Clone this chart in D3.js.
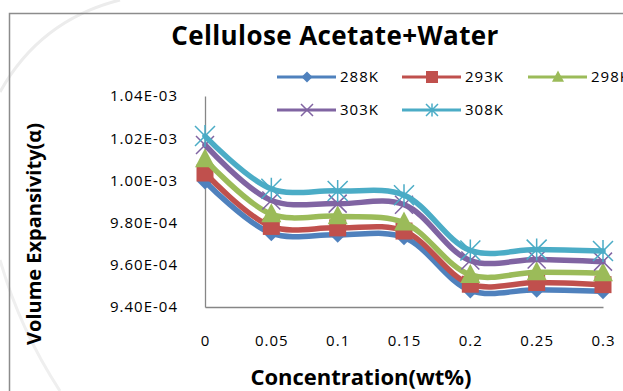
<!DOCTYPE html>
<html>
<head>
<meta charset="utf-8">
<script src="https://cdn.jsdelivr.net/npm/d3@7"></script>
<style>
  body { margin: 0; background: #fff; }
  svg { display: block; }
  text { font-family: 'Open Sans', sans-serif; fill: #000; }
</style>
</head>
<body>
<div id="chart"></div>
<script>
/* global d3 */

// ----------------------------------------
// Data (x 1e-3)
// ----------------------------------------
let concentrations = [0, 0.05, 0.1, 0.15, 0.2, 0.25, 0.3]
let seriesNames = ['288K', '293K', '298K', '303K', '308K']
let v288 = [0.9995, 0.9750, 0.9742, 0.9730, 0.9478, 0.9482, 0.9475]
let v293 = [1.0035, 0.9782, 0.9775, 0.9760, 0.9508, 0.9516, 0.9506]
let v298 = [1.0100, 0.9840, 0.9830, 0.9800, 0.9552, 0.9565, 0.9560]
let v303 = [1.0168, 0.9905, 0.9890, 0.9885, 0.9620, 0.9625, 0.9615]
let v308 = [1.0210, 0.9960, 0.9950, 0.9930, 0.9668, 0.9672, 0.9665]
let yTickValues = [9.4e-4, 9.6e-4, 9.8e-4, 1.0e-3, 1.02e-3, 1.04e-3]

let colors = ['#4F81BD', '#C0504D', '#9BBB59', '#8064A2', '#4BACC6']
let markerTypes = ['diamond', 'square', 'triangle', 'cross', 'star']

var width = 623
var height = 391

var series = [v288, v293, v298, v303, v308].map((vals, i) => ({
  name: seriesNames[i],
  color: colors[i],
  marker: markerTypes[i],
  points: vals.map((v, j) => ({ x: concentrations[j], y: v * 1e-3 }))
}))

var svg = d3.select('#chart').append('svg')
  .attr('width', width)
  .attr('height', height)

// faint watermark arcs on the left, as in the scan
svg.append('path')
  .attr('d', 'M0,92 Q40,20 120,0')
  .attr('fill', 'none')
  .attr('stroke', '#ececec')
  .attr('stroke-width', 3)
svg.append('path')
  .attr('d', 'M0,260 Q20,330 60,391')
  .attr('fill', 'none')
  .attr('stroke', '#efefef')
  .attr('stroke-width', 3)

// chart frame (cut off on right and bottom)
svg.append('path')
  .attr('d', 'M9.5,' + height + ' V13.5 H' + width)
  .attr('fill', 'none')
  .attr('stroke', '#8c8c8c')
  .attr('stroke-width', 1.5)

// ----------------------------------------
// Scales and axes
// ----------------------------------------
var x = d3.scaleLinear().domain([0, 0.3]).range([205, 603])
var y = d3.scaleLinear().domain([9.4e-4, 1.04e-3]).range([307, 96])

function sciFormat (v) {
  let parts = v.toExponential(2).toUpperCase().split('E')
  let exp = +parts[1]
  let sign = exp < 0 ? '-' : '+'
  return parts[0] + 'E' + sign + String(Math.abs(exp)).padStart(2, '0')
}

var yAxis = svg.append('g')
  .attr('transform', 'translate(205,0)')
  .call(d3.axisLeft(y).tickValues(yTickValues).tickFormat(sciFormat).tickSize(0).tickPadding(27))
yAxis.select('.domain').attr('stroke', '#868686').attr('stroke-width', 1.3)
yAxis.selectAll('text')
  .style('font-family', "'Open Sans', sans-serif")
  .style('font-size', '15px')
  .style('letter-spacing', '1px')
  .attr('fill', '#000')

var xAxis = svg.append('g')
  .attr('transform', 'translate(0,307)')
  .call(d3.axisBottom(x).tickValues(concentrations).tickFormat(d3.format('')).tickSize(0).tickPadding(28))
xAxis.select('.domain').attr('stroke', '#868686').attr('stroke-width', 1.3)
xAxis.selectAll('text')
  .style('font-family', "'Open Sans', sans-serif")
  .style('font-size', '15px')
  .style('letter-spacing', '1px')
  .attr('fill', '#000')

// ----------------------------------------
// Titles
// ----------------------------------------
svg.append('text')
  .attr('x', 335)
  .attr('y', 45)
  .attr('text-anchor', 'middle')
  .style('font-size', '26px')
  .style('font-weight', 'bold')
  .style('letter-spacing', '0.4px')
  .text('Cellulose Acetate+Water')

svg.append('text')
  .attr('transform', 'translate(41,234) rotate(-90)')
  .attr('text-anchor', 'middle')
  .style('font-size', '20px')
  .style('font-weight', 'bold')
  .text('Volume Expansivity(α)')

svg.append('text')
  .attr('x', 361)
  .attr('y', 385)
  .attr('text-anchor', 'middle')
  .style('font-size', '22px')
  .style('font-weight', 'bold')
  .text('Concentration(wt%)')

// ----------------------------------------
// Markers
// ----------------------------------------
function drawMarker (g, type, color, s) {
  if (type === 'diamond') {
    g.append('path')
      .attr('d', 'M0,' + (-s / 2) + 'L' + (s / 2) + ',0L0,' + (s / 2) + 'L' + (-s / 2) + ',0Z')
      .attr('fill', color)
  } else if (type === 'square') {
    g.append('rect')
      .attr('x', -s / 2).attr('y', -s / 2)
      .attr('width', s).attr('height', s)
      .attr('fill', color)
  } else if (type === 'triangle') {
    g.append('path')
      .attr('d', 'M0,' + (-s * 0.55) + 'L' + (s / 2) + ',' + (s * 0.4) + 'L' + (-s / 2) + ',' + (s * 0.4) + 'Z')
      .attr('fill', color)
  } else if (type === 'cross') {
    let h = s / 2
    g.append('path')
      .attr('d', 'M' + (-h) + ',' + (-h) + 'L' + h + ',' + h + 'M' + (-h) + ',' + h + 'L' + h + ',' + (-h))
      .attr('stroke', color).attr('stroke-width', 1.5).attr('fill', 'none')
  } else if (type === 'star') {
    let h = s / 2
    g.append('path')
      .attr('d', 'M' + (-h) + ',' + (-h) + 'L' + h + ',' + h + 'M' + (-h) + ',' + h + 'L' + h + ',' + (-h) + 'M0,' + (-h * 1.1) + 'V' + (h * 1.1))
      .attr('stroke', color).attr('stroke-width', 1.5).attr('fill', 'none')
  }
}

var markerSize = { diamond: 16, square: 17, triangle: 20, cross: 18, star: 20 }
var legendMarkerSize = { diamond: 11, square: 12, triangle: 12, cross: 12, star: 12 }

// ----------------------------------------
// Lines
// ----------------------------------------
var line = d3.line()
  .x(d => x(d.x))
  .y(d => y(d.y))
  .curve(d3.curveCatmullRom.alpha(0.5))

var seriesGroup = svg.append('g').attr('class', 'series')

series.forEach(s => {
  let g = seriesGroup.append('g')
  g.append('path')
    .datum(s.points)
    .attr('d', line)
    .attr('fill', 'none')
    .attr('stroke', s.color)
    .attr('stroke-width', 5.5)
    .attr('stroke-linejoin', 'round')
    .attr('stroke-linecap', 'round')
  s.points.forEach(p => {
    let m = g.append('g').attr('transform', 'translate(' + x(p.x) + ',' + y(p.y) + ')')
    drawMarker(m, s.marker, s.color, markerSize[s.marker])
  })
})

// ----------------------------------------
// Legend
// ----------------------------------------
var legendPos = [
  { lx: 277, ly: 77 },
  { lx: 402, ly: 77 },
  { lx: 528, ly: 77 },
  { lx: 277, ly: 110 },
  { lx: 402, ly: 110 }
]

var legend = svg.append('g').attr('class', 'legend')
series.forEach((s, i) => {
  let pos = legendPos[i]
  let g = legend.append('g').attr('transform', 'translate(' + pos.lx + ',' + pos.ly + ')')
  g.append('line')
    .attr('x1', 0).attr('x2', 59)
    .attr('y1', 0).attr('y2', 0)
    .attr('stroke', s.color)
    .attr('stroke-width', 3)
  let m = g.append('g').attr('transform', 'translate(30,0)')
  drawMarker(m, s.marker, s.color, legendMarkerSize[s.marker])
  g.append('text')
    .attr('x', 63)
    .attr('y', 0)
    .attr('dy', '.35em')
    .style('font-family', "'Open Sans', sans-serif")
    .style('font-size', '15px')
    .style('letter-spacing', '1px')
    .text(s.name)
})
</script>
</body>
</html>
